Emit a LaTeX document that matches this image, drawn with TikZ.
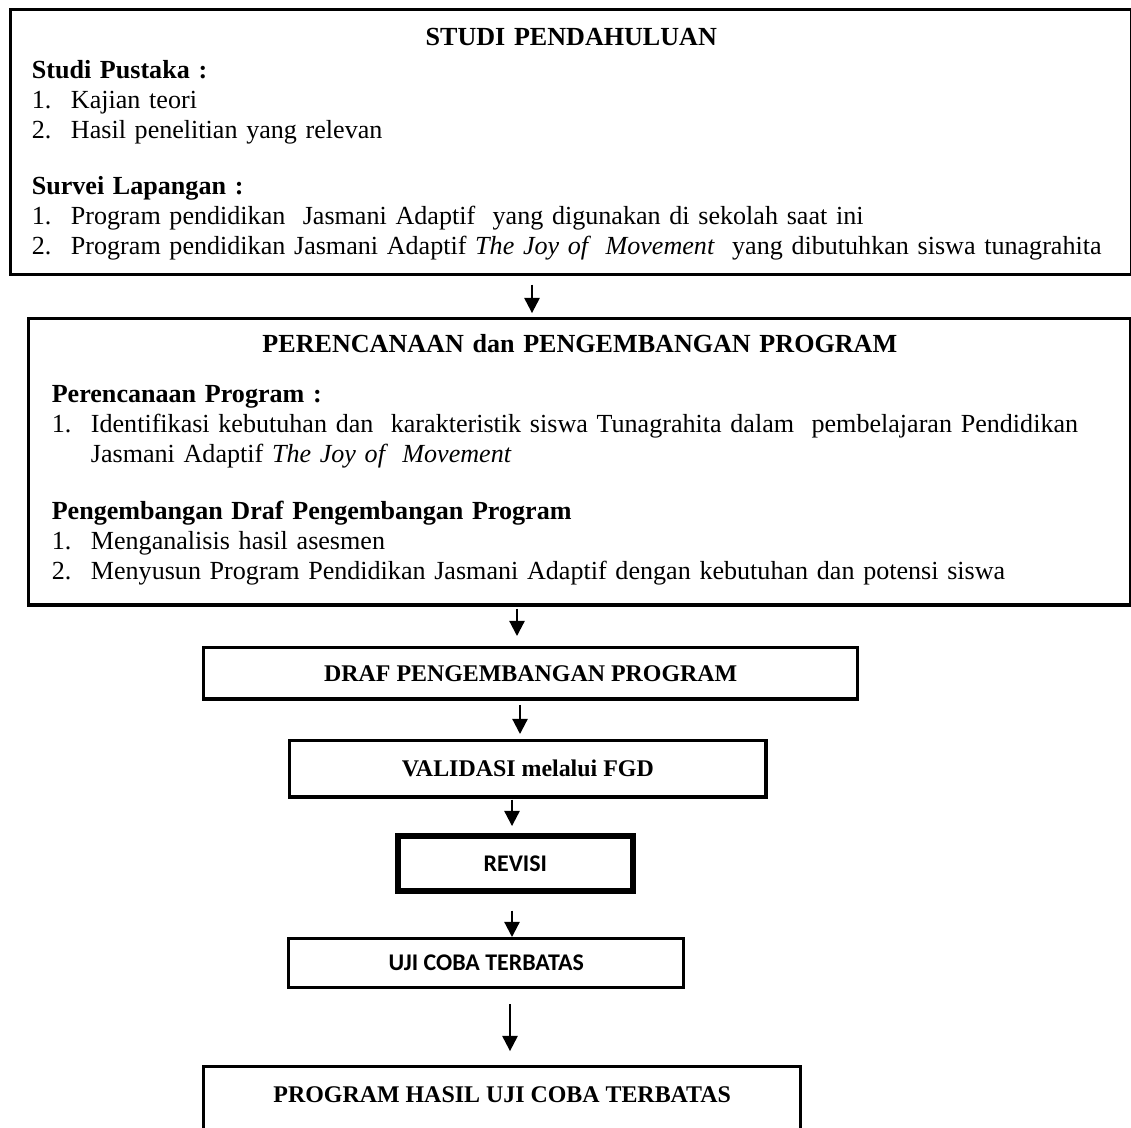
\documentclass[tikz,border=0pt]{standalone}
\usepackage{fontspec}
\setmainfont{Liberation Serif}
\newfontfamily\calibrifont{Carlito}
\usetikzlibrary{positioning,arrows.meta}

\newcommand{\itemno}[1]{\makebox[18pt][l]{#1}}

\begin{document}
\begin{tikzpicture}[
        x=0.46pt, y=-0.46pt,
        font=\fontsize{12}{13.8}\selectfont,
        flow/.style={-{Triangle[width=7pt, length=7pt]}, line width=1pt, draw=black},
        bigbox/.style={
            rectangle,
            draw=black,
            line width=1.6pt,
            anchor=north west,
            align=left,
            inner ysep=0pt
        },
        stage/.style={
            rectangle,
            draw=black,
            line width=1.6pt,
            anchor=north west,
            inner sep=0pt,
            font=\fontsize{11}{13}\selectfont\bfseries
        },
        stagesans/.style={
            stage,
            font=\calibrifont\fontsize{11}{13}\selectfont\bfseries
        }
    ]

    \useasboundingbox (0,0) rectangle (1131,1127);
    \clip (0,0) rectangle (1131,1127);

    \node[bigbox, minimum width=515.7pt, minimum height=121.9pt,
          text width=496.3pt, inner xsep=9.7pt] (studi) at (9,8) {
        \makebox[\hsize]{\rule{0pt}{10pt}\textbf{STUDI PENDAHULUAN}}\\[1.4pt]
        \textbf{Studi Pustaka :}\\
        \itemno{1.}Kajian teori\\
        \itemno{2.}Hasil penelitian yang relevan\\[12pt]
        \textbf{Survei Lapangan :}\\
        \itemno{1.}Program pendidikan\ \ Jasmani Adaptif\ \ yang digunakan di sekolah saat ini\\
        \itemno{2.}Program pendidikan Jasmani Adaptif \textit{The Joy of\ \ Movement}\ \ yang dibutuhkan siswa tunagrahita
    };

    \node[bigbox, minimum width=506.9pt, minimum height=131.6pt,
          text width=485.8pt, inner xsep=10.6pt] (rencana) at (27,317) {
        \makebox[\hsize]{\textbf{PERENCANAAN dan PENGEMBANGAN PROGRAM}}\\[9.2pt]
        \textbf{Perencanaan Program :}\\
        \itemno{1.}Identifikasi kebutuhan dan\ \ karakteristik siswa Tunagrahita dalam\ \ pembelajaran Pendidikan\\
        \itemno{}Jasmani Adaptif \textit{The Joy of\ \ Movement}\\[12.4pt]
        \textbf{Pengembangan Draf Pengembangan Program}\\
        \itemno{1.}Menganalisis hasil asesmen\\
        \itemno{2.}Menyusun Program Pendidikan Jasmani Adaptif dengan kebutuhan dan potensi siswa\rule[-4.5pt]{0pt}{1pt}
    };

    \node[stage, minimum width=300.8pt, minimum height=23.5pt] (draf) at (202,646) {DRAF PENGEMBANGAN PROGRAM};
    \node[stage, minimum width=219pt, minimum height=25.8pt] (validasi) at (288,739) {VALIDASI melalui FGD};
    \node[stagesans, line width=2.6pt, minimum width=108.1pt, minimum height=25.3pt] (revisi) at (395,833) {REVISI};
    \node[stagesans, minimum width=181.7pt, minimum height=22.5pt] (ujicoba) at (287,937) {UJI COBA TERBATAS};
    \node[stage, minimum width=274.6pt, text height=16.6pt, text depth=27.6pt] (hasil) at (202,1065) {PROGRAM HASIL UJI COBA TERBATAS};

    % arrow columns
    \coordinate (a1) at (532,0);
    \coordinate (a2) at (517,0);
    \coordinate (a3) at (520,0);
    \coordinate (a4) at (512,0);
    \coordinate (a5) at (512,0);
    \coordinate (a6) at (510,0);

    \draw[flow, shorten <=3.7pt, shorten >=1.8pt] (studi.south -| a1) -- (rencana.north -| a1);
    \draw[flow, shorten <=1pt, shorten >=4.6pt] (rencana.south -| a2) -- (draf.north -| a2);
    \draw[flow, shorten <=2pt, shorten >=2.3pt] (draf.south -| a3) -- (validasi.north -| a3);
    \draw[flow, shorten <=0.5pt, shorten >=3.2pt] (validasi.south -| a4) -- (revisi.north -| a4);
    \draw[flow, shorten <=7.8pt] (revisi.south -| a5) -- (ujicoba.north -| a5);
    \draw[flow, shorten <=6.9pt, shorten >=6.4pt] (ujicoba.south -| a6) -- (hasil.north -| a6);

\end{tikzpicture}
\end{document}
